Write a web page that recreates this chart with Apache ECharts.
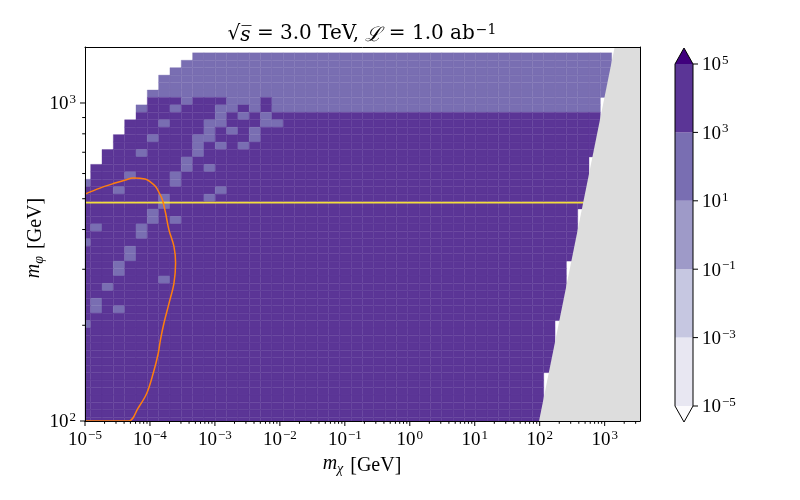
<!DOCTYPE html>
<html><head><meta charset="utf-8">
<script src="https://cdn.jsdelivr.net/npm/echarts@6/dist/echarts.min.js"></script>
<style>html,body{margin:0;padding:0;background:#fff}#c{width:800px;height:500px}</style>
</head><body><div id="c"></div>
<script>
// ---------------- data ----------------
const xRange = [1e-5, 3500];
const yRange = [100, 1500];
// cell grid: 50 log-spaced centres in each direction
const nCols = 50, nRows = 50;
const xCentreLogRange = [-5, Math.log10(3500)];
const yCentreLogRange = [2, Math.log10(1400)];
// cells, one run-length string per row, top row (49) first. '.' = no data, D = 1e3..1e5, L = 10..1e3
const cellRows = [
  "10. 37L", "9. 38L", "8. 39L", "7. 40L", "7. 40L", "6. 41L",
  "6. 3D 1L 3D 3L 1D 29L",
  "5. 1L 2D 1L 3D 2L 1D 1L 1D 29L",
  "5. 7D 1L 1D 1L 1D 1L 29D",
  "4. 3D 1L 3D 2L 3D 2L 28D",
  "4. 7D 1L 1D 1L 1D 1L 30D",
  "3. 3D 1L 3D 2L 3D 1L 30D",
  "3. 7D 1L 1D 1L 1D 1L 31D",
  "2. 3D 1L 4D 1L 35D",
  "2. 7D 1L 35D",
  "1. 8D 1L 1D 1L 33D",
  "1. 3D 1L 3D 1L 36D",
  "1L 7D 1L 36D",
  "3D 1L 8D 1L 32D",
  "7D 1L 3D 1L 33D",
  "7D 1L 37D",
  "6D 1L 37D",
  "6D 1L 1D 1L 35D",
  "1D 1L 3D 1L 38D",
  "5D 1L 38D",
  "1L 43D",
  "4D 1L 39D",
  "4D 1L 39D",
  "3D 1L 39D",
  "3D 1L 39D",
  "7D 1L 35D",
  "2D 1L 40D",
  "43D",
  "1D 1L 41D",
  "1D 1L 1D 1L 39D",
  "43D",
  "1L 41D",
  "42D", "42D", "42D", "42D", "42D", "42D",
  "41D", "41D", "41D", "41D", "41D", "41D", "41D"
];
const cellLevelValue = { D: 1e4, L: 1e2 };

// colour bar
const cbBounds = [1e-5, 1e-3, 1e-1, 1e1, 1e3, 1e5];
const cbColors = ['#e8e7f2', '#c6c7e1', '#9e9ac8', '#796eb2', '#5b3596'];
const cbUnder = '#fcfbfd', cbOver = '#3f007d';
const cbTickValues = [1e-5, 1e-3, 1e-1, 1e1, 1e3, 1e5];
const cbTickExps = ['−5', '−3', '−1', '1', '3', '5'];

// axis ticks
const xMajorTicks = [1e-5, 1e-4, 1e-3, 1e-2, 1e-1, 1e0, 1e1, 1e2, 1e3];
const yMajorTicks = [1e2, 1e3];
const minorMultipliers = [2, 3, 4, 5, 6, 7, 8, 9];

// kinematically excluded (grey) region
const greyRegion = [[97.7, 100], [1425, 1500], [3500, 1500], [3500, 100]];
// horizontal yellow line
const yellowLevel = 486;
// orange contour
const orangeX = [1e-5, 1.7e-5, 2.9e-5, 4.2e-5, 5.5e-5, 8.4e-5, 1.0e-4, 1.22e-4, 1.4e-4, 1.55e-4, 1.74e-4, 1.96e-4, 2.34e-4, 2.48e-4, 2.34e-4, 1.96e-4, 1.64e-4, 1.45e-4, 1.34e-4, 1.12e-4, 8.9e-5, 6.6e-5, 4.67e-5, 1e-5];
const orangeY = [517, 540, 560, 573, 581, 577, 566, 546, 520, 497, 451, 399, 354, 314, 271, 234, 203, 180, 163, 141, 122, 110, 100, 100];

// ---------------- build ----------------
const FONT = '"Liberation Serif", "DejaVu Serif", serif';
const TFONT = '"DejaVu Serif", "Liberation Serif", serif';
const xStep = (xCentreLogRange[1] - xCentreLogRange[0]) / (nCols - 1);
const yStep = (yCentreLogRange[1] - yCentreLogRange[0]) / (nRows - 1);

const cellData = [];
cellRows.forEach((rowStr, i) => {
  const r = nRows - 1 - i;
  let c = 0;
  rowStr.trim().split(/\s+/).forEach(tok => {
    const m = tok.match(/^(\d+)(.)$/);
    const n = +m[1], ch = m[2];
    for (let k = 0; k < n; k++) {
      if (cellLevelValue[ch] !== undefined) cellData.push([c, r, cellLevelValue[ch]]);
      c++;
    }
  });
});

function colorFor(v) {
  if (v < cbBounds[0]) return cbUnder;
  for (let i = 0; i < cbColors.length; i++) if (v < cbBounds[i + 1]) return cbColors[i];
  return cbOver;
}

const xMinorTicks = [];
for (let e = -5; e <= 3; e++) minorMultipliers.forEach(m => { const v = m * Math.pow(10, e); if (v < xRange[1]) xMinorTicks.push(v); });
const yMinorTicks = [];
for (let e = 2; e <= 3; e++) minorMultipliers.forEach(m => { const v = m * Math.pow(10, e); if (v < yRange[1]) yMinorTicks.push(v); });

const supRich = {
  b: { fontSize: 19, fontFamily: FONT, color: '#000', verticalAlign: 'bottom', lineHeight: 22 },
  s: { fontSize: 13, fontFamily: FONT, color: '#000', verticalAlign: 'bottom', padding: [0, 0, 8, 1], lineHeight: 22 }
};
function powLabel(v) {
  const l = Math.log10(v);
  if (Math.abs(l - Math.round(l)) > 1e-9) return '';
  const e = Math.round(l);
  return '{b|10}{s|' + (e < 0 ? '−' + (-e) : e) + '}';
}

const chart = echarts.init(document.getElementById('c'), null, { renderer: 'canvas', width: 800, height: 500 });

const frameAxis = { show: true, lineStyle: { color: '#000', width: 1 }, onZero: false };

const option = {
  animation: false,
  backgroundColor: '#fff',
  grid: [
    { left: 85, top: 47, width: 555, height: 374, show: false, containLabel: false },
    { left: 675, top: 64, width: 18, height: 342, show: false, containLabel: false }
  ],
  xAxis: [
    { type: 'log', logBase: 10, min: xRange[0], max: xRange[1], gridIndex: 0, position: 'bottom', z: 10,
      axisLine: frameAxis, axisTick: { show: false }, splitLine: { show: false }, minorTick: { show: false },
      axisLabel: { formatter: powLabel, rich: supRich, color: '#000', margin: 7, showMinLabel: true, showMaxLabel: true, hideOverlap: false } },
    { type: 'log', logBase: 10, min: xRange[0], max: xRange[1], gridIndex: 0, position: 'top', z: 10,
      axisLine: frameAxis, axisTick: { show: false }, splitLine: { show: false }, axisLabel: { show: false } },
    { type: 'value', min: 0, max: 1, gridIndex: 1, show: false }
  ],
  yAxis: [
    { type: 'log', logBase: 10, min: yRange[0], max: yRange[1], gridIndex: 0, position: 'left', z: 10,
      axisLine: frameAxis, axisTick: { show: false }, splitLine: { show: false },
      axisLabel: { formatter: powLabel, rich: supRich, color: '#000', margin: 9, showMinLabel: true, showMaxLabel: true } },
    { type: 'log', logBase: 10, min: yRange[0], max: yRange[1], gridIndex: 0, position: 'right', z: 10,
      axisLine: frameAxis, axisTick: { show: false }, splitLine: { show: false }, axisLabel: { show: false } },
    { type: 'log', logBase: 10, min: cbBounds[0], max: cbBounds[cbBounds.length - 1], gridIndex: 1, show: false }
  ],
  series: [
    { // heat-map cells
      type: 'custom', xAxisIndex: 0, yAxisIndex: 0, z: 1, silent: true,
      data: cellData,
      renderItem: function (params, api) {
        const c = api.value(0), r = api.value(1), v = api.value(2);
        const xc = xCentreLogRange[0] + c * xStep, yc = yCentreLogRange[0] + r * yStep;
        const p0 = api.coord([Math.pow(10, xc - xStep / 2), Math.pow(10, yc + yStep / 2)]);
        const p1 = api.coord([Math.pow(10, xc + xStep / 2), Math.pow(10, yc - yStep / 2)]);
        const cs = params.coordSys;
        const rect = echarts.graphic.clipRectByRect(
          { x: p0[0], y: p0[1], width: p1[0] - p0[0], height: p1[1] - p0[1] },
          { x: cs.x, y: cs.y, width: cs.width, height: cs.height });
        if (!rect) return;
        const col = colorFor(v);
        return { type: 'rect', shape: rect, style: { fill: col, stroke: col, lineWidth: 0.35 } };
      }
    },
    { // yellow line
      type: 'line', xAxisIndex: 0, yAxisIndex: 0, z: 3, silent: true, symbol: 'none',
      data: [[xRange[0], yellowLevel], [xRange[1], yellowLevel]],
      lineStyle: { color: '#f2dd3c', width: 1.6 }
    },
    { // grey region
      type: 'custom', xAxisIndex: 0, yAxisIndex: 0, z: 4, silent: true,
      data: [[0]],
      renderItem: function (params, api) {
        return { type: 'polygon', shape: { points: greyRegion.map(p => api.coord(p)) }, style: { fill: '#dddddd' } };
      }
    },
    { // orange contour
      type: 'line', xAxisIndex: 0, yAxisIndex: 0, z: 5, silent: true, symbol: 'none', smooth: 0.35,
      data: orangeX.map((x, i) => [x, orangeY[i]]),
      lineStyle: { color: '#ff7f0e', width: 1.5 }
    },
    { // x ticks
      type: 'custom', xAxisIndex: 0, yAxisIndex: 0, z: 11, silent: true, clip: false,
      data: xMajorTicks.map(v => [v, 5]).concat(xMinorTicks.map(v => [v, 2.8])),
      renderItem: function (params, api) {
        const p = api.coord([api.value(0), yRange[0]]);
        return { type: 'line', shape: { x1: p[0], y1: p[1], x2: p[0], y2: p[1] + api.value(1) }, style: { stroke: '#000', lineWidth: 1 } };
      }
    },
    { // y ticks
      type: 'custom', xAxisIndex: 0, yAxisIndex: 0, z: 11, silent: true, clip: false,
      data: yMajorTicks.map(v => [xRange[0], v, 5]).concat(yMinorTicks.map(v => [xRange[0], v, 2.8])),
      renderItem: function (params, api) {
        const p = api.coord([xRange[0], api.value(1)]);
        return { type: 'line', shape: { x1: p[0], y1: p[1], x2: p[0] - api.value(2), y2: p[1] }, style: { stroke: '#000', lineWidth: 1 } };
      }
    },
    { // colour bar bands
      type: 'custom', xAxisIndex: 2, yAxisIndex: 2, z: 2, silent: true, clip: false,
      data: cbColors.map((col, i) => [i]),
      renderItem: function (params, api) {
        const i = api.value(0);
        const p0 = api.coord([0, cbBounds[i + 1]]), p1 = api.coord([1, cbBounds[i]]);
        return { type: 'rect', shape: { x: p0[0], y: p0[1], width: p1[0] - p0[0], height: p1[1] - p0[1] }, style: { fill: cbColors[i] } };
      }
    },
    { // colour bar extensions, outline, ticks and labels
      type: 'custom', xAxisIndex: 2, yAxisIndex: 2, z: 3, silent: true, clip: false,
      data: [[0]],
      renderItem: function (params, api) {
        const top = api.coord([0, cbBounds[cbBounds.length - 1]]);
        const bot = api.coord([1, cbBounds[0]]);
        const l = top[0], r = bot[0], t = top[1], b = bot[1], m = (l + r) / 2, h = 16;
        const children = [
          { type: 'polygon', shape: { points: [[l, t], [m, t - h], [r, t]] }, style: { fill: cbOver } },
          { type: 'polygon', shape: { points: [[l, b], [m, b + h], [r, b]] }, style: { fill: cbUnder } },
          { type: 'polygon', shape: { points: [[l, b], [m, b + h], [r, b], [r, t], [m, t - h], [l, t]] }, style: { fill: null, stroke: '#000', lineWidth: 1 } }
        ];
        cbTickValues.forEach((v, i) => {
          const p = api.coord([1, v]);
          children.push({ type: 'line', shape: { x1: p[0], y1: p[1], x2: p[0] + 5, y2: p[1] }, style: { stroke: '#000', lineWidth: 1 } });
          children.push({ type: 'text', x: p[0] + 9, y: p[1],
            style: { text: '{b|10}{s|' + cbTickExps[i] + '}', rich: supRich, fill: '#000', font: '19px ' + FONT,
                     align: 'left', verticalAlign: 'middle', textAlign: 'left', textVerticalAlign: 'middle' } });
        });
        return { type: 'group', children: children };
      }
    }
  ],
  graphic: [
    { type: 'text', x: 362, y: 34, z: 20,
      style: { text: '√{i|s̅} = 3.0 TeV, {i|ℒ} = 1.0 ab{s|−1}', fill: '#000', font: '20px ' + TFONT,
               align: 'center', verticalAlign: 'middle', textAlign: 'center', textVerticalAlign: 'middle',
               rich: {
                 i: { fontStyle: 'italic', fontSize: 20, fontFamily: TFONT, verticalAlign: 'bottom', lineHeight: 24 },
                 s: { fontSize: 14, fontFamily: TFONT, verticalAlign: 'bottom', padding: [0, 0, 9, 1], lineHeight: 24 }
               } } },
    { type: 'text', x: 362, y: 466, z: 20,
      style: { text: '{i|m}{u|χ} [GeV]', fill: '#000', font: '20px ' + FONT,
               align: 'center', verticalAlign: 'middle', textAlign: 'center', textVerticalAlign: 'middle',
               rich: {
                 i: { fontStyle: 'italic', fontSize: 20, fontFamily: FONT, verticalAlign: 'top', lineHeight: 24 },
                 u: { fontStyle: 'italic', fontSize: 14, fontFamily: FONT, verticalAlign: 'top', padding: [8, 2, 0, 0], lineHeight: 24 }
               } } },
    { type: 'text', x: 36, y: 238, rotation: Math.PI / 2, z: 20,
      style: { text: '{i|m}{u|φ} [GeV]', fill: '#000', font: '20px ' + FONT,
               align: 'center', verticalAlign: 'middle', textAlign: 'center', textVerticalAlign: 'middle',
               rich: {
                 i: { fontStyle: 'italic', fontSize: 20, fontFamily: FONT, verticalAlign: 'top', lineHeight: 24 },
                 u: { fontStyle: 'italic', fontSize: 14, fontFamily: FONT, verticalAlign: 'top', padding: [8, 2, 0, 0], lineHeight: 24 }
               } } }
  ]
};
chart.setOption(option);
</script>
</body></html>
